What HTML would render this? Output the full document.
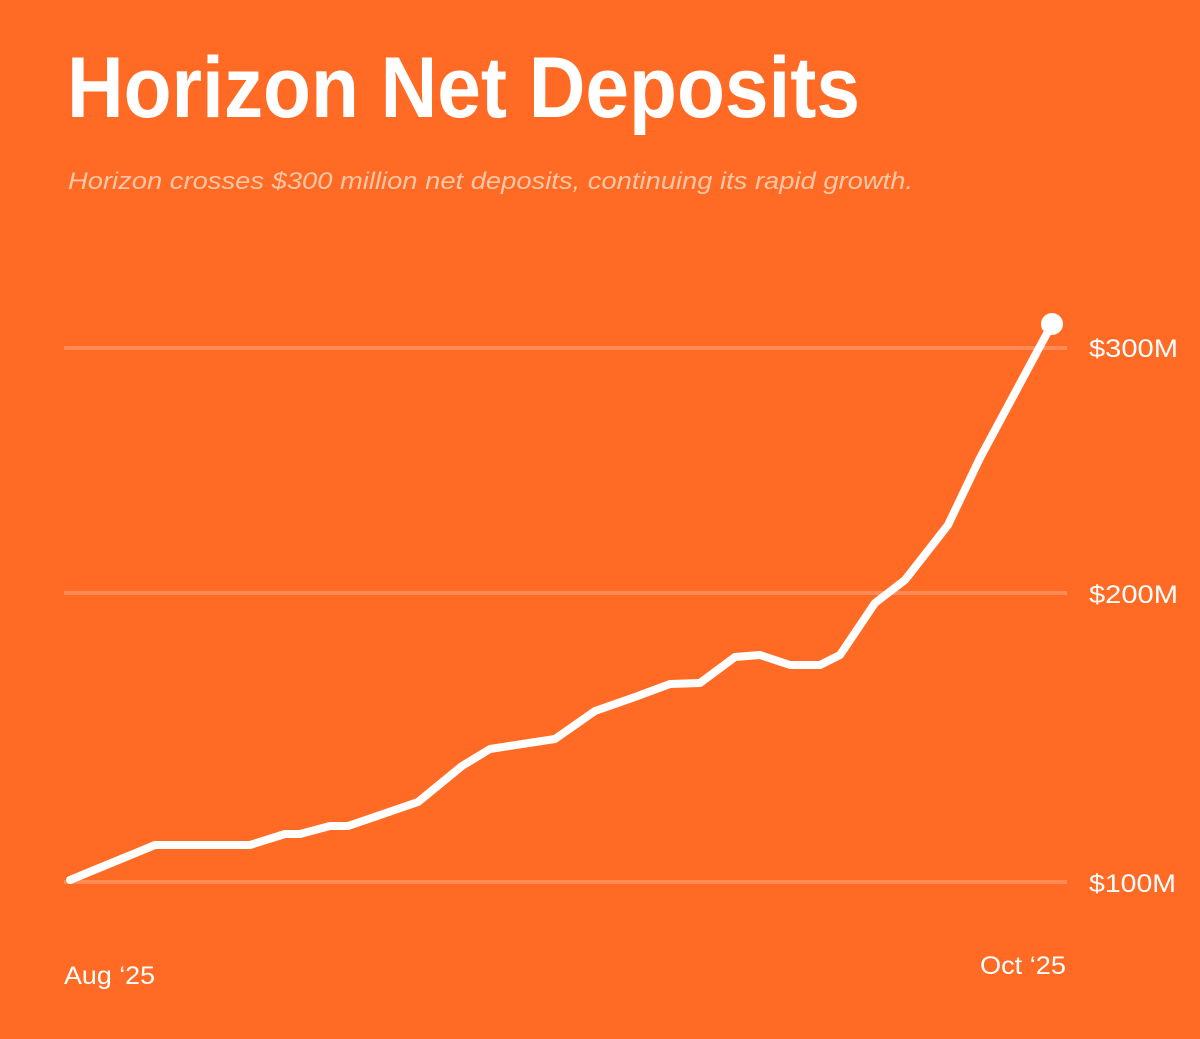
<!DOCTYPE html>
<html><head><meta charset="utf-8"><style>
html,body{margin:0;padding:0;background:#FF6A24;}
svg{display:block;}
</style></head><body>
<svg width="1200" height="1039" viewBox="0 0 1200 1039" xmlns="http://www.w3.org/2000/svg">
<rect width="1200" height="1039" fill="#FF6A24"/>
<text x="67" y="117" font-family="Liberation Sans, sans-serif" font-weight="bold" font-size="86" fill="#fff" textLength="793" lengthAdjust="spacingAndGlyphs">Horizon Net Deposits</text>
<text x="68" y="189" font-family="Liberation Sans, sans-serif" font-style="italic" font-size="24" fill="#FFC7A6" textLength="845" lengthAdjust="spacingAndGlyphs">Horizon crosses $300 million net deposits, continuing its rapid growth.</text>
<g stroke="#FF8A55" stroke-width="4">
<line x1="64" y1="348" x2="1067" y2="348"/>
<line x1="64" y1="593" x2="1067" y2="593"/>
<line x1="64" y1="882" x2="1067" y2="882"/>
</g>
<g font-family="Liberation Sans, sans-serif" font-size="25" fill="#fff">
<text x="1089" y="357" textLength="89" lengthAdjust="spacingAndGlyphs">$300M</text>
<text x="1089" y="603" textLength="89" lengthAdjust="spacingAndGlyphs">$200M</text>
<text x="1089" y="892" textLength="87" lengthAdjust="spacingAndGlyphs">$100M</text>
<text x="64" y="984" textLength="91" lengthAdjust="spacingAndGlyphs">Aug ‘25</text>
<text x="980" y="974" textLength="86" lengthAdjust="spacingAndGlyphs">Oct ‘25</text>
</g>
<polyline fill="none" stroke="#fff" stroke-width="8" stroke-linejoin="round" stroke-linecap="round"
points="70,880 155,845 250,845 285,834 300,834 330,826 348,826 418,802 462,766 490,749 555,739 595,711 635,697 670,684 700,683 735,657 760,655 790,665 820,665 840,655 875,603 905,580 948,525 980,458 1052,324"/>
<circle cx="1052" cy="324" r="11" fill="#fff"/>
</svg>
</body></html>
